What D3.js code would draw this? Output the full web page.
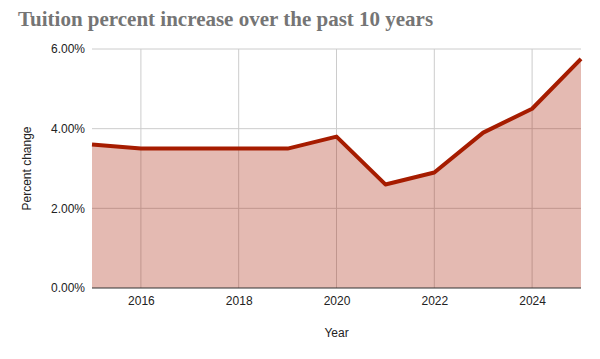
<!DOCTYPE html>
<html>
<head>
<meta charset="utf-8">
<script src="https://cdn.jsdelivr.net/npm/d3@7"></script>
<style>
  body { margin: 0; background: #fff; }
  svg { display: block; }
</style>
</head>
<body>
<div id="chart"></div>
<script>
// Data
const years = [2015, 2016, 2017, 2018, 2019, 2020, 2021, 2022, 2023, 2024, 2025];
const percentChange = [3.6, 3.5, 3.5, 3.5, 3.5, 3.8, 2.6, 2.9, 3.9, 4.5, 5.75];
const xTicks = [2016, 2018, 2020, 2022, 2024];
const yTicks = [0, 2, 4, 6];

const W = 600, H = 359;
const margin = { top: 49, right: 19, bottom: 71, left: 92 },
      width = W - margin.left - margin.right,
      height = H - margin.top - margin.bottom;

const svg = d3.select("#chart")
  .append("svg")
    .attr("width", W)
    .attr("height", H);

// Title
svg.append("text")
    .attr("x", 18)
    .attr("y", 26)
    .attr("font-family", "Liberation Serif, Georgia, serif")
    .attr("font-weight", "bold")
    .attr("font-size", 21)
    .attr("fill", "#757575")
    .text("Tuition percent increase over the past 10 years");

const g = svg.append("g")
    .attr("transform", `translate(${margin.left},${margin.top})`);

const x = d3.scaleLinear().domain([2015, 2025]).range([0, width]);
const y = d3.scaleLinear().domain([0, 6]).range([height, 0]);

const data = years.map((yr, i) => ({ year: yr, value: percentChange[i] }));

// Gridlines
g.append("g")
  .selectAll("line")
  .data(yTicks.filter(d => d > 0))
  .join("line")
    .attr("x1", 0).attr("x2", width)
    .attr("y1", d => y(d)).attr("y2", d => y(d))
    .attr("stroke", "#cccccc");

g.append("g")
  .selectAll("line")
  .data(xTicks)
  .join("line")
    .attr("x1", d => x(d)).attr("x2", d => x(d))
    .attr("y1", 0).attr("y2", height)
    .attr("stroke", "#cccccc");

// Area
const area = d3.area()
    .x(d => x(d.year))
    .y0(y(0))
    .y1(d => y(d.value));

g.append("path")
    .datum(data)
    .attr("d", area)
    .attr("fill", "#a61c00")
    .attr("fill-opacity", 0.3);

// Line
const line = d3.line()
    .x(d => x(d.year))
    .y(d => y(d.value));

g.append("path")
    .datum(data)
    .attr("d", line)
    .attr("fill", "none")
    .attr("stroke", "#a61c00")
    .attr("stroke-width", 4)
    .attr("stroke-linejoin", "round");

// Baseline
g.append("line")
    .attr("x1", 0).attr("x2", width)
    .attr("y1", y(0)).attr("y2", y(0))
    .attr("stroke", "#333333")
    .attr("stroke-width", 1);

// Axes
const xAxis = g.append("g")
    .attr("transform", `translate(0,${height})`)
    .call(d3.axisBottom(x).tickValues(xTicks).tickFormat(d3.format("d")).tickSize(0).tickPadding(8));
xAxis.select(".domain").remove();

const yAxis = g.append("g")
    .call(d3.axisLeft(y).tickValues(yTicks).tickFormat(d => d.toFixed(2) + "%").tickSize(0).tickPadding(7));
yAxis.select(".domain").remove();

g.selectAll(".tick text")
    .attr("font-family", "Liberation Sans, Arial, sans-serif")
    .attr("font-size", 12)
    .attr("fill", "#222");

// Axis titles
svg.append("text")
    .attr("x", margin.left + x(2020))
    .attr("y", 337)
    .attr("text-anchor", "middle")
    .attr("font-family", "Liberation Sans, Arial, sans-serif")
    .attr("font-size", 12)
    .attr("fill", "#222")
    .text("Year");

svg.append("text")
    .attr("transform", `translate(31,${margin.top + height / 2}) rotate(-90)`)
    .attr("text-anchor", "middle")
    .attr("font-family", "Liberation Sans, Arial, sans-serif")
    .attr("font-size", 12)
    .attr("fill", "#222")
    .text("Percent change");
</script>
</body>
</html>
